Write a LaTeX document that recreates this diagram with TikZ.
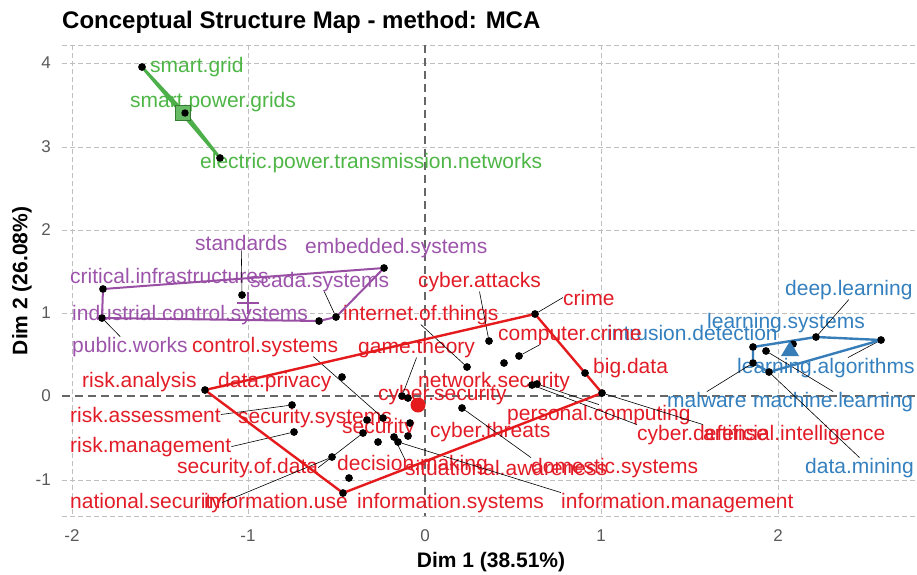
\documentclass[tikz,border=0pt]{standalone}
\usepackage{fontspec}
\setmainfont{Liberation Sans}
\usetikzlibrary{calc}

\definecolor{cRed}{HTML}{E41A1C}
\definecolor{cBlue}{HTML}{377EB8}
\definecolor{cGreen}{HTML}{4DAF4A}
\definecolor{cPurple}{HTML}{984EA3}
\definecolor{tRed}{RGB}{226,28,38}
\definecolor{tBlue}{RGB}{52,128,190}
\definecolor{tGreen}{RGB}{78,182,70}
\definecolor{tPurple}{RGB}{156,84,170}

\begin{document}
\begin{tikzpicture}[x=1pt,y=-1pt,
  lbl/.style={inner sep=0pt, font=\fontsize{21}{21}\selectfont, anchor=base west},
  ticklbl/.style={inner sep=0pt, font=\fontsize{17}{17}\selectfont, text=black!65},
  axtitle/.style={inner sep=0pt, font=\fontsize{21}{21}\selectfont\bfseries},
  dot/.style={circle, fill=black, inner sep=0pt, minimum size=7.5pt},
  leader/.style={black, line width=0.6pt},
  hull/.style={line width=2.4pt, line join=round},
  gridln/.style={black!25, dash pattern=on 5pt off 3pt, line width=0.6pt},
  zeroln/.style={black!60, dash pattern=on 8pt off 5pt, line width=1.1pt}]
\useasboundingbox (0,0) rectangle (917,574);

% ---------- title, axes, grid ----------
\node[inner sep=0pt, anchor=base west, font=\fontsize{24}{24}\selectfont\bfseries] (title) at (62,28) {Conceptual Structure Map - method: MCA};

\draw[gridln] (62,45) -- (917,45);
\draw[gridln] (62,516) -- (917,516);
\foreach \yy in {63,147,230,313,480} \draw[gridln] (62,\yy) -- (917,\yy);
\foreach \xx in {72,248,601,778} \draw[gridln] (\xx,45) -- (\xx,516);
\draw[zeroln] (62,396) -- (917,396);
\draw[zeroln] (425,45) -- (425,516);

\foreach \yy/\t in {63/4,147/3,230/2,313/1,396/0,480/-1}
  \node[ticklbl, anchor=east] at (51,\yy) {\t};
\foreach \xx/\t in {72/-2,248/-1,425/0,601/1,778/2}
  \node[ticklbl] at (\xx,536) {\t};

\node[axtitle] (xtitle) at (491,562) {Dim 1 (38.51\%)};
\node[axtitle, rotate=90] (ytitle) at (22,281) {Dim 2 (26.08\%)};

% ---------- points ----------
% green cluster
\node[dot] (p-sg)  at (142,67) {};
\node[dot] (p-spg) at (185,113) {};
\node[dot] (p-ep)  at (220,158) {};
% purple cluster
\node[dot] (p-ci)  at (103,289) {};
\node[dot] (p-ics) at (319,321) {};
\node[dot] (p-pw)  at (102,318) {};
\node[dot] (p-std) at (242,295) {};
\node[dot] (p-emb) at (384,268) {};
\node[dot] (p-sc)  at (336,317) {};
% blue cluster
\node[dot] (p-dl)  at (816,337) {};
\node[dot] (p-ls)  at (793,344) {};
\node[dot] (p-id)  at (753,347) {};
\node[dot] (p-la)  at (881,340) {};
\node[dot] (p-mw)  at (753,363) {};
\node[dot] (p-ml)  at (766,351) {};
\node[dot] (p-dm)  at (769,372) {};
% red cluster
\node[dot] (p-ra)   at (205,390) {};
\node[dot] (p-dp)   at (342,377) {};
\node[dot] (p-rass) at (292,405) {};
\node[dot] (p-rm)   at (294,432) {};
\node[dot] (p-ss)   at (367,420) {};
\node[dot] (p-cs)   at (383,418) {};
\node[dot] (p-sod)  at (363,433) {};
\node[dot] (p-is)   at (378,442) {};
\node[dot] (p-sa)   at (394,437) {};
\node[dot] (p-im)   at (398,442) {};
\node[dot] (p-sec)  at (410,423) {};
\node[dot] (p-ct)   at (408,436) {};
\node[dot] (p-ns)   at (332,457) {};
\node[dot] (p-dmk)  at (349,478) {};
\node[dot] (p-iu)   at (343,493) {};
\node[dot] (p-gt)   at (402,396) {};
\node[dot] (p-cys)  at (408,398) {};
\node[dot] (p-dom)  at (462,408) {};
\node[dot] (p-iot)  at (467,367) {};
\node[dot] (p-ca)   at (489,341) {};
\node[dot] (p-nets) at (504,363) {};
\node[dot] (p-cc)   at (519,356) {};
\node[dot] (p-cd)   at (532,385) {};
\node[dot] (p-pc)   at (537,384) {};
\node[dot] (p-cr)   at (535,314) {};
\node[dot] (p-bd)   at (585,373) {};
\node[dot] (p-ai)   at (602,393) {};

% ---------- labels ----------
\begin{scope}[every node/.append style={text=tGreen}]
\node[lbl] (l-sg)  at (150,72)  {smart.grid};
\node[lbl] (l-spg) at (130,107) {smart.power.grids};
\node[lbl] (l-ep)  at (200,168) {electric.power.transmission.networks};
\end{scope}

\begin{scope}[every node/.append style={text=tPurple}]
\node[lbl] (l-std) at (195,250) {standards};
\node[lbl] (l-emb) at (305,253) {embedded.systems};
\node[lbl] (l-ci)  at (70,283)  {critical.infrastructures};
\node[lbl] (l-sc)  at (250,287) {scada.systems};
\node[lbl] (l-ics) at (72,320)  {industrial.control.systems};
\node[lbl] (l-pw)  at (72,352)  {public.works};
\end{scope}

\begin{scope}[every node/.append style={text=tBlue}]
\node[lbl] (l-dl)  at (785,295) {deep.learning};
\node[lbl] (l-ls)  at (707,328) {learning.systems};
\node[lbl] (l-id)  at (607,340) {intrusion.detection};
\node[lbl] (l-la)  at (737,373) {learning.algorithms};
\node[lbl] (l-mw)  at (667,407) {malware};
\node[lbl] (l-ml)  at (753,407) {machine.learning};
\node[lbl] (l-dm)  at (805,473) {data.mining};
\end{scope}

\begin{scope}[every node/.append style={text=tRed}]
\node[lbl] (l-ca)   at (418,287) {cyber.attacks};
\node[lbl] (l-cr)   at (563,305) {crime};
\node[lbl] (l-iot)  at (343,320) {internet.of.things};
\node[lbl] (l-cc)   at (498,340) {computer.crime};
\node[lbl] (l-cs)   at (192,352) {control.systems};
\node[lbl] (l-gt)   at (358,353) {game.theory};
\node[lbl] (l-bd)   at (593,373) {big.data};
\node[lbl] (l-ra)   at (82,387)  {risk.analysis};
\node[lbl] (l-dp)   at (218,387) {data.privacy};
\node[lbl] (l-nets) at (418,387) {network.security};
\node[lbl] (l-cys)  at (378,400) {cyber.security};
\node[lbl] (l-pc)   at (507,420) {personal.computing};
\node[lbl] (l-rass) at (70,422)  {risk.assessment};
\node[lbl] (l-ss)   at (238,423) {security.systems};
\node[lbl] (l-sec)  at (342,433) {security};
\node[lbl] (l-ct)   at (430,437) {cyber.threats};
\node[lbl] (l-cd)   at (637,440) {cyber.defense};
\node[lbl] (l-ai)   at (703,440) {artificial.intelligence};
\node[lbl] (l-rm)   at (70,452)  {risk.management};
\node[lbl] (l-dmk)  at (337,470) {decision.making};
\node[lbl] (l-sod)  at (177,473) {security.of.data};
\node[lbl] (l-dom)  at (531,473) {domestic.systems};
\node[lbl] (l-sa)   at (405,475) {situational.awareness};
\node[lbl] (l-ns)   at (70,508)  {national.security};
\node[lbl] (l-iu)   at (204,508) {information.use};
\node[lbl] (l-is)   at (357,508) {information.systems};
\node[lbl] (l-im)   at (561,508) {information.management};
\end{scope}

% ---------- label leaders ----------
\draw[leader] (l-std.south) -- (p-std);
\draw[leader] (l-pw) -- (p-pw);
\draw[leader] (l-sc) -- (p-sc);
\draw[leader] (l-dl.south) -- (p-dl);
\draw[leader] ($(l-la.north)+(22,0)$) -- (p-la);
\draw[leader] (l-mw.north) -- (p-mw);
\draw[leader] (l-ml.north) -- (p-ml);
\draw[leader] (l-dm.north) -- (p-dm);
\draw[leader] (l-rass.east) -- (p-rass);
\draw[leader] (l-rm.east) -- (p-rm);
\draw[leader] ($(l-cs.south east)+(-25,0)$) -- (p-cs);
\draw[leader] (l-ns.east) -- (p-ns);
\draw[leader] (l-sod.east) -- (p-sod);
\draw[leader] (l-sa.north west) -- (p-sa);
\draw[leader] (l-im.north west) -- (p-im);
\draw[leader] (l-dom.north west) -- (p-dom);
\draw[leader] (l-gt.south) -- (p-gt);
\draw[leader] (l-iot.south) -- (p-iot);
\draw[leader] (l-ca.south) -- (p-ca);
\draw[leader] ($(l-cc.south west)+(42,0)$) -- (p-cc);
\draw[leader] (l-cr.west) -- (p-cr);
\draw[leader] (l-cd.north west) -- (p-cd);
\draw[leader] (l-pc.north) -- (p-pc);
\draw[leader] (l-ai.north west) -- (p-ai);

% ---------- cluster hulls ----------
\draw[hull, cGreen, line width=2.8pt] (p-sg.center) -- (p-spg.center) -- (p-ep.center) -- cycle;
\draw[hull, cPurple, line width=2pt] (p-ci.center) -- (p-emb.center) -- (p-sc.center) -- (p-ics.center) -- (p-pw.center) -- cycle;
\draw[hull, cBlue] (p-id.center) -- (p-dl.center) -- (p-la.center) -- (p-dm.center) -- (p-mw.center) -- cycle;
\draw[hull, cRed] (p-ra.center) -- (p-cr.center) -- (p-ai.center) -- (p-iu.center) -- cycle;

% redraw the points above the hull lines
\foreach \p in {sg,spg,ep,ci,ics,pw,std,emb,sc,dl,ls,id,la,mw,ml,dm,ra,dp,rass,rm,ss,cs,sod,is,sa,im,sec,ct,ns,dmk,iu,gt,cys,dom,iot,ca,nets,cc,cd,pc,cr,bd,ai}
  \fill[black] (p-\p) circle[radius=3.7pt];

% ---------- cluster centroids ----------
\node[draw=cGreen!70!black, fill=cGreen!85!white, line width=0.8pt, minimum size=15pt, inner sep=0pt] (c-green) at (183,113) {};
\fill[black] (p-spg) circle[radius=3.7pt];
\draw[cPurple, line width=1.3pt] (237,303) -- (259,303) (248,292) -- (248,314);
\coordinate (c-purple) at (248,303);
\fill[cBlue] (781,356) -- (799,356) -- (790,341) -- cycle;
\coordinate (c-blue) at (790,350);
\fill[cRed] (418,405) circle[radius=7.5pt];
\coordinate (c-red) at (418,405);
\end{tikzpicture}
\end{document}
